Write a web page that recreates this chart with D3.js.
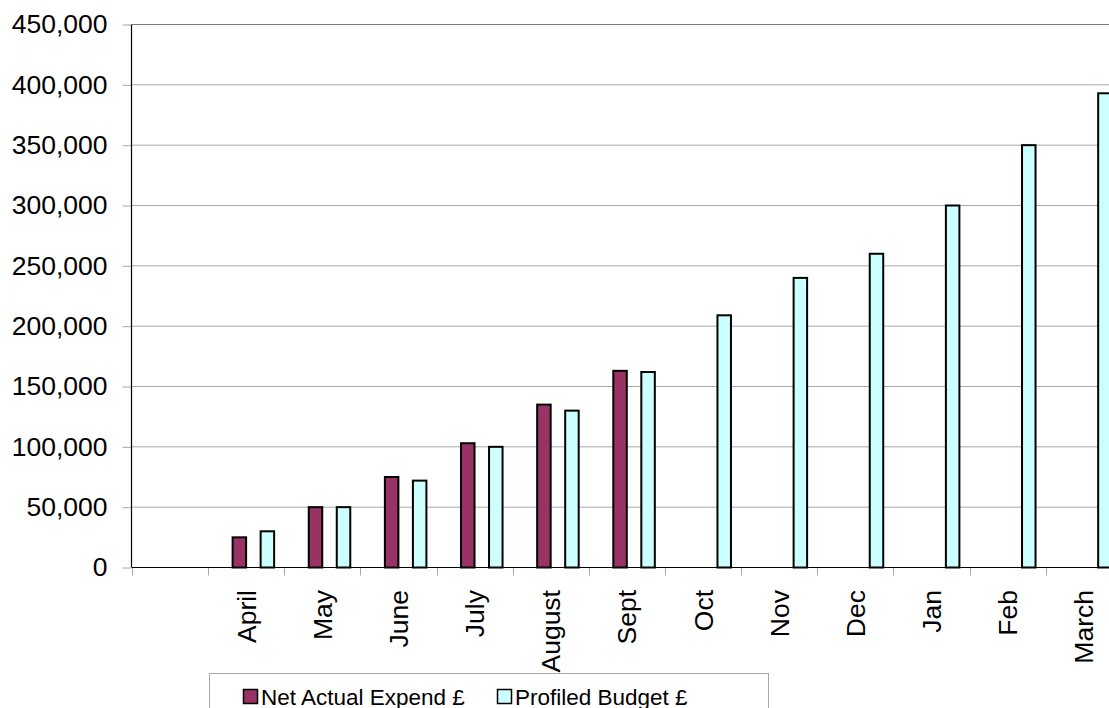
<!DOCTYPE html>
<html>
<head>
<meta charset="utf-8">
<script src="https://cdn.jsdelivr.net/npm/d3@7/dist/d3.min.js"></script>
<style>
  html, body { margin: 0; padding: 0; background: #fff; }
  svg { display: block; font-family: "Liberation Sans", Arial, sans-serif; }
</style>
</head>
<body>
<svg id="chart" width="1109" height="708"></svg>
<script>
// ---- data ----
const categories = ["", "April", "May", "June", "July", "August", "Sept", "Oct", "Nov", "Dec", "Jan", "Feb", "March"];
const seriesNames = ["Net Actual Expend £", "Profiled Budget £"];
const netActual = [null, 25000, 50000, 75000, 103000, 135000, 163000, null, null, null, null, null, null];
const profiledBudget = [null, 30000, 50000, 72000, 100000, 130000, 162000, 209000, 240000, 260000, 300000, 350000, 393000];
const yTicks = [0, 50000, 100000, 150000, 200000, 250000, 300000, 350000, 400000, 450000];
const seriesColors = ["#993366", "#CCFFFF"];

// ---- layout ----
const svg = d3.select("#chart");
const x0 = 132, bw = 76.14;
const x = d3.scaleBand().domain(categories).range([x0, x0 + bw * categories.length]).padding(0);
const y = d3.scaleLinear().domain([0, 450000]).range([567.5, 24.5]);
const x1 = d3.scalePoint().domain(seriesNames).range([0.41 * x.bandwidth(), 0.778 * x.bandwidth()]);
const barW = 13.5;

// gridlines
svg.append("g").selectAll("line").data(yTicks.filter(d => d > 0)).join("line")
  .attr("x1", x0).attr("x2", 1109)
  .attr("y1", d => y(d)).attr("y2", d => y(d))
  .attr("stroke", d => d === 450000 ? "#7a7a7a" : "#a8a8a8")
  .attr("stroke-width", 1);

// y axis
const yAxis = d3.axisLeft(y).tickValues(yTicks).tickFormat(d3.format(",")).tickSize(9).tickPadding(15);
const gy = svg.append("g").attr("transform", `translate(${x0 - 0.5},0)`).call(yAxis);
gy.select(".domain").remove();
gy.selectAll(".tick line").attr("stroke", "#a8a8a8");
gy.selectAll(".tick text").attr("font-size", 26.5).attr("fill", "#000")
  .attr("font-family", "'Liberation Sans', Arial, sans-serif");

// bars
const series = [netActual, profiledBudget];
series.forEach((vals, si) => {
  svg.append("g").selectAll("rect")
    .data(categories.map((c, i) => ({ c, v: vals[i] })).filter(d => d.v != null))
    .join("rect")
    .attr("x", d => x(d.c) + x1(seriesNames[si]) - barW / 2)
    .attr("width", barW)
    .attr("y", d => y(d.v))
    .attr("height", d => y(0) - y(d.v))
    .attr("fill", seriesColors[si])
    .attr("stroke", "#000")
    .attr("stroke-width", 2);
});

// x axis ticks (at category boundaries)
const boundaries = categories.map(c => x(c));
svg.append("g").selectAll("line").data(boundaries).join("line")
  .attr("x1", d => Math.round(d) + 0.5).attr("x2", d => Math.round(d) + 0.5)
  .attr("y1", y(0)).attr("y2", y(0) + 8)
  .attr("stroke", "#a8a8a8");

// axis lines
svg.append("line").attr("x1", x0).attr("x2", 1109).attr("y1", y(0)).attr("y2", y(0))
  .attr("stroke", "#000").attr("stroke-width", 1.2);
svg.append("line").attr("x1", x0 - 0.5).attr("x2", x0 - 0.5).attr("y1", y(450000)).attr("y2", y(0))
  .attr("stroke", "#000").attr("stroke-width", 1.2);

// x labels
svg.append("g").selectAll("text").data(categories.filter(c => c !== "")).join("text")
  .attr("transform", d => `translate(${x(d) + x.bandwidth() / 2},590) rotate(-90)`)
  .attr("text-anchor", "end")
  .attr("dy", "0.36em")
  .attr("font-size", 26.5)
  .attr("fill", "#000")
  .text(d => d);

// legend
const lg = svg.append("g");
lg.append("rect").attr("x", 209.5).attr("y", 673.5).attr("width", 559).attr("height", 60)
  .attr("fill", "#fff").attr("stroke", "#a8a8a8");
const legendX = [243, 497];
seriesNames.forEach((name, i) => {
  lg.append("rect").attr("x", legendX[i] + 0.5).attr("y", 689.5).attr("width", 14).attr("height", 14)
    .attr("fill", seriesColors[i]).attr("stroke", "#000").attr("stroke-width", 1.5);
  lg.append("text").attr("x", legendX[i] + 18).attr("y", 704.5)
    .attr("font-size", 22.5).attr("fill", "#000").text(name);
});
</script>
</body>
</html>
